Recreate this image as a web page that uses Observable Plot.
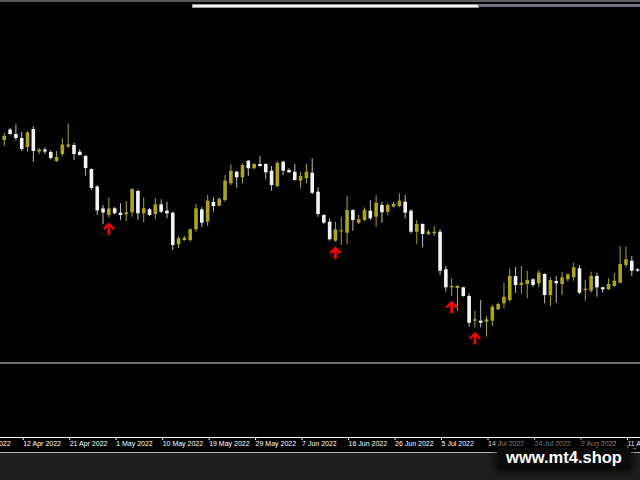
<!DOCTYPE html>
<html>
<head>
<meta charset="utf-8">
<script src="https://cdn.jsdelivr.net/npm/d3@7"></script>
<script src="https://cdn.jsdelivr.net/npm/@observablehq/plot@0.6"></script>
<style>
  html, body { margin: 0; padding: 0; background: #000; }
  #wrap { position: relative; width: 640px; height: 480px; overflow: hidden; background: #000; }
  #chart { position: absolute; left: 0; top: 0; }
  .topband { position: absolute; left: 0; top: 0; width: 640px; height: 2px; background: #5a5a5a; }
  .scrollA { position: absolute; left: 192px; top: 4px; width: 285px; height: 2px; background: #f2f2f2; border: 0.5px solid #9a9a9a; }
  .scrollB { position: absolute; left: 478px; top: 4px; width: 162px; height: 3px; background: #6a7683; }
  .sep { position: absolute; left: 0; top: 362px; width: 640px; height: 2px; background: #707070; }
  .bottom { position: absolute; left: 0; top: 452px; width: 640px; height: 28px; background: #1e1e1e; border-top: 1px solid #b8b8b8; }
  .shade { position: absolute; left: 484px; top: 439px; width: 150px; height: 12px;
           background: linear-gradient(to right, rgba(0,0,0,0), rgba(0,0,0,0.45) 15%, rgba(0,0,0,0.45) 80%, rgba(0,0,0,0)); }
  .wm { position: absolute; left: 497px; top: 448px; width: 134px; height: 22px; background: #0b0b0b; border-radius: 3px;
        box-shadow: 0 0 6px 3px rgba(0,0,0,0.55); color: #fff; font: bold 16.5px "Liberation Sans", Arial, sans-serif;
        line-height: 18px; text-align: center; }
</style>
</head>
<body>
<div id="wrap">
  <div id="chart"></div>
  <div class="topband"></div>
  <div class="scrollA"></div>
  <div class="scrollB"></div>
  <div class="sep"></div>
  <div class="bottom"></div>
  <div class="shade"></div>
  <div class="wm">www.mt4.shop</div>
</div>
<script>
// Daily candles (chart units; no price scale is visible)
const open = [260,270.5,266,262,253,271,248.5,250.5,248,239,246,253.5,255,248.3,244,231,213.5,191.5,185,191.7,187.3,185.7,187.7,209,186.7,190.7,186,195.7,189.3,187.3,155.7,160,160,170.7,190.7,178.3,198,194.3,200,216.7,228.3,222.7,239.3,231.7,236,236,229.3,214,238.3,230,228.3,219.3,221.7,227.3,208.3,185,178.3,159.3,168.7,167.3,190,177.3,180,189.3,183.3,195,188.3,193.3,194,198.3,189.3,168.3,176,165.7,166.7,168.3,130.7,112.7,112,112.7,104,79.3,79.3,78.3,79.3,90.7,96.7,100,124,115,116,120.7,116.7,126,105,119,116,120.7,122.7,131.7,110,109.3,124,112.7,110.7,114,117.3,135,139.3,130.7];
const high = [267,272,275.5,268,269,274,252,252.5,250,249,261.5,276.5,257.3,250.7,245,231.7,215,195,202.3,193,196.7,199,212,210.7,202.7,191.7,201.7,200.7,198.3,188.3,164,164,171.7,196,192.7,205,202.7,203,225,235.7,229.3,236.7,240,236.7,244,236.7,234,238.3,239.3,231.7,236,228.3,236,241.7,212.7,186,181.7,178.3,183.3,204,190.7,185,192.7,200,205,198.3,197.3,198.3,206.7,205,190.7,180,176.7,170,174,170.7,134,121.7,115,113.3,106.7,89.3,100,84,95,97.3,117,131.7,132.7,134,129.3,121.7,130,126.7,122.7,124,128.3,126.7,137.3,135,120,128.3,127.3,113.3,121.7,127.3,154,153.3,144,131.7];
const low = [254,265,260,249,248.5,238,246,246,240.5,238,244,252,240,244.5,224.5,210,185,176,182.3,185.7,180,179,183.3,180,177.7,184,180.7,186.7,181.7,150,151.7,159.3,158.3,168.3,172.7,174,188.3,194,198.3,215,212.3,216.7,224,231,233.3,220.7,209.3,212.7,225,227.3,219.3,211.7,216.7,205.7,183.3,176,159.3,158.3,155,156,169.3,176,179.3,180,173.3,177.3,185,192.7,192.7,181.7,166.7,156,152.7,165,164,125,108.3,104,89.3,103.3,73.3,72.7,72.7,63.3,74,90,92,98.3,107.3,106,101.7,112.7,112.7,96.7,94,97.3,105,118.3,119.3,106,99.3,107.3,103.3,107.3,110,113.3,116.7,132.7,124,128.3];
const close = [264,266,262,251,267.5,249,250.5,248.5,242,243,255.5,255.5,246,245,232,212,189.5,187.5,191.5,186.7,185,187.7,211,186.7,191.7,185,195.7,188.3,186.7,155,161.7,162.3,170.7,191.7,177.3,199.3,194,201,219.3,229.3,222.7,235,231.7,236,234,227.7,215,237.3,229.3,227.7,220,224,228.3,207.3,186,177.3,160.7,170.7,169.7,190,180,180.7,190,181.7,197.3,187.7,195,196,199.3,187.3,168.3,176,166,168.3,168.3,129.3,112.7,114,114,104,77.3,80.7,77.3,80.7,93.3,96,103.3,124,115,117.3,120,115,127.3,105,120,116.7,122.7,125.7,132.7,107.3,111.3,124,112.7,110.7,116,119.3,136,140.7,129.3,129.3];

// Date labels on the time axis and the bars they sit on
const tickLabels = ["3 Apr 2022","12 Apr 2022","21 Apr 2022","1 May 2022","10 May 2022","19 May 2022","29 May 2022","7 Jun 2022","16 Jun 2022","26 Jun 2022","5 Jul 2022","14 Jul 2022","24 Jul 2022","2 Aug 2022","11 Aug 2022"];
const tickBars = [-5,3,11,19,27,35,43,51,59,67,75,83,91,99,107];

// Bars with a buy-signal arrow
const signalBars = [18,57,77,81];

const BULL = "#a9a51f", BEAR = "#f4f4f4", BEAR_WICK = "#bdbdbd";

const candles = open.map((o, i) => {
  const c = close[i];
  let b1 = Math.min(o, c), b2 = Math.max(o, c);
  if (b2 - b1 < 1.2) { const m = (b1 + b2) / 2; b1 = m - 0.6; b2 = m + 0.6; }
  return {i, o, h: high[i], l: low[i], c, b1, b2, up: c >= o};
});
const signals = signalBars.map(i => ({i, l: low[i]}));
const labelOf = new Map(tickBars.map((b, j) => [b, tickLabels[j]]));

// Bold up-arrow glyph (MT4 "buy" arrow)
const upArrow = {
  draw(ctx, size) {
    const r = Math.sqrt(size / Math.PI);
    const p = [[0,-1],[0.98,-0.08],[0.68,0.2],[0.22,-0.3],[0.22,1],[-0.22,1],[-0.22,-0.3],[-0.68,0.2],[-0.98,-0.08]];
    ctx.moveTo(p[0][0]*r, p[0][1]*r);
    for (let k = 1; k < p.length; ++k) ctx.lineTo(p[k][0]*r, p[k][1]*r);
    ctx.closePath();
  }
};

const chart = Plot.plot({
  width: 640,
  height: 452,
  marginTop: 0, marginBottom: 15, marginLeft: 0, marginRight: 0,
  style: {background: "#000", color: "#fff", fontFamily: "'Liberation Sans', Arial, sans-serif", fontSize: "7px"},
  x: {domain: [-0.649, 109.5], axis: null},
  y: {domain: [-37, 400], axis: null},
  marks: [
    Plot.ruleX(candles, {x: "i", y1: "l", y2: "h", stroke: d => d.up ? BULL : BEAR_WICK, strokeWidth: 1}),
    Plot.ruleX(candles, {x: "i", y1: "b1", y2: "b2", stroke: d => d.up ? BULL : BEAR, strokeWidth: 3.6}),
    Plot.dot(signals, {x: "i", y: "l", r: 6.2, symbol: upArrow, fill: "#ff0000", stroke: "none", dy: 10.5}),
    Plot.frame({anchor: "bottom", stroke: "#fff", strokeWidth: 1.2}),
    Plot.axisX(tickBars, {tickSize: 3, tickPadding: 1, textAnchor: "start", dx: 1.5, fill: "#fff", stroke: "#fff",
      tickFormat: d => labelOf.get(d), fontSize: 7})
  ]
});
document.getElementById("chart").append(chart);
</script>
</body>
</html>
